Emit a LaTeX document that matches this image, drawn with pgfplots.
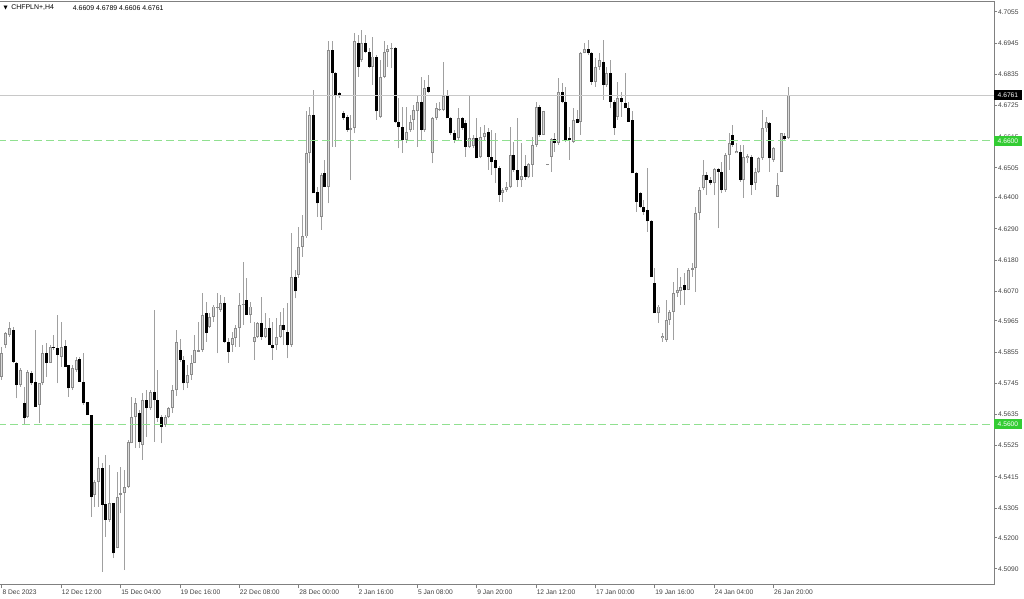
\documentclass[border=0pt]{standalone}
\usepackage{fontspec}
\setmainfont{Liberation Sans}
\newfontfamily\dejavu{DejaVu Sans}
\usepackage{pgfplots}
\usepackage{pgfplotstable}
\pgfplotsset{compat=1.18}

\definecolor{wickgray}{HTML}{A0A0A0}
\definecolor{bullline}{HTML}{8C8C8C}
\definecolor{bullfill}{HTML}{DADADA}
\definecolor{lvlgreen}{HTML}{90E090}
\definecolor{boxgreen}{HTML}{33CC33}
\definecolor{priceline}{HTML}{C8C8C8}
\definecolor{framegray}{HTML}{808080}
\definecolor{txt}{HTML}{404040}

% CHFPLN+ H4 candles: index, open, high, low, close
\pgfplotstableread{
i o h l c
0 4.5769 4.5874 4.5757 4.5851
1 4.5880 4.5927 4.5868 4.5921
2 4.5916 4.5963 4.5910 4.5939
3 4.5933 4.5945 4.5816 4.5821
4 4.5816 4.5821 4.5692 4.5739
5 4.5739 4.5798 4.5733 4.5792
6 4.5674 4.5733 4.5598 4.5622
7 4.5627 4.5792 4.5622 4.5786
8 4.5783 4.5790 4.5739 4.5745
9 4.5751 4.5933 4.5663 4.5663
10 4.5669 4.5745 4.5604 4.5745
11 4.5745 4.5880 4.5739 4.5851
12 4.5851 4.5886 4.5769 4.5816
13 4.5816 4.5880 4.5816 4.5874
14 4.5874 4.5916 4.5863 4.5871
15 4.5868 4.5986 4.5745 4.5845
16 4.5839 4.5963 4.5804 4.5874
17 4.5877 4.5898 4.5804 4.5804
18 4.5810 4.5810 4.5698 4.5727
19 4.5727 4.5810 4.5721 4.5798
20 4.5792 4.5839 4.5786 4.5827
21 4.5830 4.5839 4.5751 4.5751
22 4.5751 4.5851 4.5669 4.5674
23 4.5680 4.5680 4.5633 4.5633
24 4.5633 4.5633 4.5275 4.5345
25 4.5351 4.5404 4.5310 4.5398
26 4.5398 4.5486 4.5310 4.5445
27 4.5445 4.5463 4.5081 4.5316
28 4.5319 4.5492 4.5204 4.5263
29 4.5263 4.5457 4.5257 4.5322
30 4.5322 4.5322 4.5128 4.5145
31 4.5163 4.5433 4.5163 4.5345
32 4.5351 4.5451 4.5286 4.5357
33 4.5357 4.5439 4.5086 4.5380
34 4.5380 4.5545 4.5375 4.5539
35 4.5533 4.5698 4.5533 4.5627
36 4.5627 4.5692 4.5516 4.5674
37 4.5639 4.5651 4.5516 4.5539
38 4.5527 4.5710 4.5475 4.5686
39 4.5686 4.5721 4.5557 4.5657
40 4.5657 4.5721 4.5651 4.5716
41 4.5716 4.6004 4.5539 4.5686
42 4.5686 4.5792 4.5610 4.5622
43 4.5627 4.5633 4.5533 4.5592
44 4.5598 4.5633 4.5592 4.5627
45 4.5627 4.5663 4.5622 4.5657
46 4.5657 4.5740 4.5640 4.5720
47 4.5720 4.5933 4.5700 4.5892
48 4.5863 4.5900 4.5820 4.5828
49 4.5828 4.5840 4.5720 4.5745
50 4.5745 4.5810 4.5730 4.5775
51 4.5775 4.5845 4.5757 4.5816
52 4.5816 4.5916 4.5816 4.5863
53 4.5857 4.5963 4.5857 4.5863
54 4.5863 4.6063 4.5857 4.5986
55 4.5992 4.6033 4.5892 4.5922
56 4.5945 4.5992 4.5939 4.5980
57 4.5980 4.6021 4.5963 4.6016
58 4.6010 4.6063 4.5851 4.6012
59 4.6004 4.6057 4.5998 4.6027
60 4.6027 4.6051 4.5886 4.5892
61 4.5892 4.5904 4.5816 4.5857
62 4.5880 4.5927 4.5857 4.5904
63 4.5904 4.5951 4.5874 4.5939
64 4.5939 4.6063 4.5874 4.6021
65 4.6021 4.6174 4.5951 4.6025
66 4.6039 4.6116 4.5986 4.5986
67 4.5986 4.6033 4.5957 4.6016
68 4.5892 4.5963 4.5828 4.5910
69 4.5910 4.5963 4.5904 4.5957
70 4.5957 4.6051 4.5898 4.5910
71 4.5910 4.5992 4.5904 4.5939
72 4.5939 4.5974 4.5880 4.5880
73 4.5880 4.5963 4.5828 4.5869
74 4.5880 4.5974 4.5863 4.5910
75 4.5910 4.5998 4.5904 4.5951
76 4.5951 4.6010 4.5880 4.5933
77 4.5927 4.6027 4.5833 4.5880
78 4.5880 4.6274 4.5874 4.6121
79 4.6121 4.6145 4.6045 4.6069
80 4.6127 4.6298 4.6116 4.6227
81 4.6227 4.6339 4.6192 4.6263
82 4.6263 4.6704 4.6257 4.6557
83 4.6557 4.6721 4.6521 4.6692
84 4.6692 4.6780 4.6415 4.6415
85 4.6421 4.6439 4.6333 4.6380
86 4.6333 4.6486 4.6286 4.6480
87 4.6486 4.6533 4.6439 4.6439
88 4.6439 4.6951 4.6380 4.6921
89 4.6921 4.6951 4.6580 4.6839
90 4.6839 4.6845 4.6580 4.6762
91 4.6768 4.6774 4.6751 4.6757
92 4.6698 4.6704 4.6674 4.6680
93 4.6686 4.6692 4.6633 4.6639
94 4.6639 4.6692 4.6462 4.6645
95 4.6645 4.6980 4.6627 4.6951
96 4.6947 4.6974 4.6827 4.6862
97 4.6886 4.6992 4.6880 4.6945
98 4.6947 4.6974 4.6909 4.6915
99 4.6915 4.6927 4.6856 4.6862
100 4.6862 4.6968 4.6798 4.6898
101 4.6898 4.6904 4.6674 4.6704
102 4.6686 4.6886 4.6680 4.6827
103 4.6827 4.6951 4.6821 4.6915
104 4.6915 4.6939 4.6862 4.6924
105 4.6924 4.6945 4.6856 4.6927
106 4.6927 4.6933 4.6662 4.6668
107 4.6668 4.6751 4.6574 4.6651
108 4.6651 4.6721 4.6557 4.6604
109 4.6604 4.6721 4.6592 4.6633
110 4.6639 4.6692 4.6633 4.6668
111 4.6674 4.6727 4.6639 4.6709
112 4.6704 4.6757 4.6580 4.6739
113 4.6739 4.6827 4.6604 4.6639
114 4.6639 4.6815 4.6633 4.6786
115 4.6792 4.6833 4.6768 4.6774
116 4.6557 4.6686 4.6521 4.6680
117 4.6680 4.6733 4.6674 4.6715
118 4.6709 4.6739 4.6704 4.6712
119 4.6709 4.6880 4.6704 4.6757
120 4.6757 4.6780 4.6680 4.6680
121 4.6680 4.6686 4.6621 4.6627
122 4.6627 4.6639 4.6592 4.6604
123 4.6610 4.6715 4.6604 4.6680
124 4.6680 4.6686 4.6639 4.6645
125 4.6662 4.6674 4.6545 4.6580
126 4.6580 4.6757 4.6574 4.6610
127 4.6583 4.6621 4.6574 4.6610
128 4.6610 4.6680 4.6539 4.6539
129 4.6542 4.6651 4.6539 4.6615
130 4.6615 4.6657 4.6604 4.6627
131 4.6633 4.6645 4.6498 4.6545
132 4.6545 4.6639 4.6480 4.6527
133 4.6533 4.6627 4.6451 4.6504
134 4.6504 4.6510 4.6386 4.6410
135 4.6415 4.6433 4.6386 4.6427
136 4.6427 4.6457 4.6421 4.6439
137 4.6439 4.6651 4.6433 4.6551
138 4.6551 4.6598 4.6492 4.6498
139 4.6498 4.6680 4.6439 4.6462
140 4.6462 4.6592 4.6439 4.6477
141 4.6512 4.6551 4.6462 4.6474
142 4.6474 4.6521 4.6468 4.6518
143 4.6516 4.6615 4.6474 4.6586
144 4.6586 4.6739 4.6580 4.6719
145 4.6719 4.6727 4.6615 4.6621
146 4.6621 4.6704 4.6621 4.6704
147 4.6516 4.6518 4.6514 4.6517
148 4.6545 4.6610 4.6492 4.6606
149 4.6606 4.6627 4.6562 4.6594
150 4.6592 4.6821 4.6586 4.6771
151 4.6771 4.6804 4.6733 4.6739
152 4.6739 4.6792 4.6598 4.6604
153 4.6610 4.6651 4.6533 4.6604
154 4.6598 4.6715 4.6592 4.6674
155 4.6677 4.6709 4.6662 4.6665
156 4.6668 4.6915 4.6621 4.6909
157 4.6909 4.6945 4.6909 4.6924
158 4.6924 4.6956 4.6904 4.6909
159 4.6909 4.6915 4.6798 4.6809
160 4.6809 4.6892 4.6792 4.6862
161 4.6862 4.6909 4.6851 4.6886
162 4.6880 4.6956 4.6745 4.6798
163 4.6798 4.6862 4.6792 4.6839
164 4.6839 4.6886 4.6715 4.6739
165 4.6739 4.6745 4.6621 4.6645
166 4.6686 4.6809 4.6674 4.6751
167 4.6751 4.6774 4.6686 4.6739
168 4.6735 4.6839 4.6715 4.6715
169 4.6715 4.6739 4.6668 4.6668
170 4.6674 4.6704 4.6486 4.6486
171 4.6486 4.6492 4.6351 4.6386
172 4.6415 4.6421 4.6363 4.6368
173 4.6368 4.6392 4.6339 4.6351
174 4.6357 4.6504 4.6280 4.6316
175 4.6316 4.6321 4.6121 4.6121
176 4.6098 4.6151 4.5992 4.5992
177 4.5992 4.6022 4.5957 4.6016
178 4.5904 4.5921 4.5892 4.5912
179 4.5898 4.6039 4.5892 4.5968
180 4.5968 4.6004 4.5951 4.5998
181 4.5998 4.6104 4.5898 4.6062
182 4.6062 4.6151 4.6051 4.6074
183 4.6072 4.6121 4.6021 4.6086
184 4.6092 4.6133 4.6021 4.6074
185 4.6074 4.6151 4.6074 4.6145
186 4.6145 4.6168 4.6121 4.6151
187 4.6151 4.6368 4.6068 4.6345
188 4.6345 4.6439 4.6321 4.6427
189 4.6433 4.6533 4.6427 4.6480
190 4.6480 4.6492 4.6409 4.6462
191 4.6462 4.6474 4.6445 4.6450
192 4.6450 4.6503 4.6409 4.6500
193 4.6500 4.6503 4.6292 4.6492
194 4.6492 4.6527 4.6415 4.6427
195 4.6427 4.6556 4.6421 4.6550
196 4.6550 4.6627 4.6497 4.6592
197 4.6621 4.6656 4.6580 4.6586
198 4.6556 4.6592 4.6556 4.6566
199 4.6562 4.6586 4.6456 4.6462
200 4.6462 4.6586 4.6398 4.6545
201 4.6539 4.6554 4.6521 4.6547
202 4.6542 4.6550 4.6409 4.6445
203 4.6450 4.6503 4.6427 4.6492
204 4.6492 4.6545 4.6486 4.6539
205 4.6539 4.6709 4.6533 4.6644
206 4.6644 4.6686 4.6633 4.6668
207 4.6664 4.6668 4.6492 4.6539
208 4.6533 4.6580 4.6527 4.6574
209 4.6403 4.6486 4.6403 4.6445
210 4.6492 4.6627 4.6492 4.6627
211 4.6617 4.6627 4.6603 4.6606
212 4.6609 4.6789 4.6606 4.6761
}\candles

\begin{document}
\begin{tikzpicture}
\useasboundingbox (0,0) rectangle (768pt,449.25pt);
\begin{axis}[
  at={(0pt,10.5pt)}, anchor=south west,
  scale only axis,
  width=745.5pt, height=437.25pt,
  xmin=-0.539, xmax=267.39,
  ymin=4.50335, ymax=4.70903,
  clip=true,
  axis line style={framegray, line width=0.75pt},
  tick style={framegray, line width=0.75pt},
  major tick length=2.5pt,
  tick align=outside,
  xtick={0,16,32,48,64,80,96,112,128,144,160,176,192,208},
  xticklabels={8 Dec 2023,12 Dec 12:00,15 Dec 04:00,19 Dec 16:00,22 Dec 08:00,28 Dec 00:00,2 Jan 16:00,5 Jan 08:00,9 Jan 20:00,12 Jan 12:00,17 Jan 00:00,19 Jan 16:00,24 Jan 04:00,26 Jan 20:00},
  xtick pos=bottom,
  xticklabel style={anchor=north west, inner sep=0pt, font=\fontsize{5}{6}\selectfont, text=txt, xshift=0.2pt, yshift=-0.6pt},
  ytick={4.5090,4.5200,4.5305,4.5415,4.5525,4.5635,4.5745,4.5855,4.5965,4.6070,4.6180,4.6290,4.6400,4.6505,4.6615,4.6725,4.6835,4.6945,4.7055},
  yticklabels={4.5090,4.5200,4.5305,4.5415,4.5525,4.5635,4.5745,4.5855,4.5965,4.6070,4.6180,4.6290,4.6400,4.6505,4.6615,4.6725,4.6835,4.6945,4.7055},
  ytick pos=right,
  yticklabel pos=right,
  yticklabel style={anchor=west, inner sep=0pt, font=\fontsize{5}{6}\selectfont, text=txt, xshift=0.4pt},
]
% wicks
\addplot[draw=none, mark=none, forget plot,
  error bars/.cd, y dir=plus, y explicit, error mark=none,
  error bar style={draw=wickgray, line width=0.75pt, solid}]
  table[x=i, y=l, y error expr=\thisrow{h}-\thisrow{l}] {\candles};
% bullish bodies: grey outline, light inside
\addplot[draw=none, mark=none, forget plot,
  restrict expr to domain={\thisrow{c}-\thisrow{o}}{0:1},
  error bars/.cd, y dir=plus, y explicit, error mark=none,
  error bar style={draw=bullline, line width=2.25pt, solid}]
  table[x=i, y=o, y error expr={max(\thisrow{c}-\thisrow{o},0.00036)}] {\candles};
\addplot[draw=none, mark=none, forget plot,
  restrict expr to domain={\thisrow{c}-\thisrow{o}}{0.0008:1},
  error bars/.cd, y dir=plus, y explicit, error mark=none,
  error bar style={draw=bullfill, line width=0.75pt, solid}]
  table[x=i, y expr=\thisrow{o}+0.00035, y error expr=\thisrow{c}-\thisrow{o}-0.0007] {\candles};
% bearish bodies: black
\addplot[draw=none, mark=none, forget plot,
  restrict expr to domain={\thisrow{o}-\thisrow{c}}{0.0000001:1},
  error bars/.cd, y dir=plus, y explicit, error mark=none,
  error bar style={draw=black, line width=2.25pt, solid}]
  table[x=i, y=c, y error expr={max(\thisrow{o}-\thisrow{c},0.00036)}] {\candles};

% levels and bid line
\addplot[lvlgreen, line width=0.75pt, dash pattern=on 6pt off 3pt] coordinates {(-1,4.6600) (268,4.6600)};
\addplot[lvlgreen, line width=0.75pt, dash pattern=on 6pt off 3pt] coordinates {(-1,4.5600) (268,4.5600)};
\addplot[priceline, line width=0.75pt] coordinates {(-1,4.6761) (268,4.6761)};

\coordinate (bid) at (axis cs:267.39,4.6761);
\coordinate (lvA) at (axis cs:267.39,4.6600);
\coordinate (lvB) at (axis cs:267.39,4.5600);
\end{axis}

\node[anchor=west, fill=black, text=white, inner xsep=2.6pt, inner ysep=0pt, minimum height=7.5pt, font=\fontsize{5}{6}\selectfont] at (bid) {4.6761};
\node[anchor=west, fill=boxgreen, text=white, inner xsep=2.6pt, inner ysep=0pt, minimum height=7.5pt, font=\fontsize{5}{6}\selectfont] at (lvA) {4.6600};
\node[anchor=west, fill=boxgreen, text=white, inner xsep=2.6pt, inner ysep=0pt, minimum height=7.5pt, font=\fontsize{5}{6}\selectfont] at (lvB) {4.5600};

% header
\node[anchor=center, inner sep=0pt, font=\dejavu\fontsize{4}{5}\selectfont, text=black] at (4.2pt,443.3pt) {▼};
\node[anchor=west, inner sep=0pt, font=\fontsize{5.2}{6}\selectfont, text=black] at (8.3pt,443.3pt) {CHFPLN+,H4};
\node[anchor=west, inner sep=0pt, font=\fontsize{5.2}{6}\selectfont, text=black] at (54.5pt,443.3pt) {4.6609 4.6789 4.6606 4.6761};
\end{tikzpicture}
\end{document}
